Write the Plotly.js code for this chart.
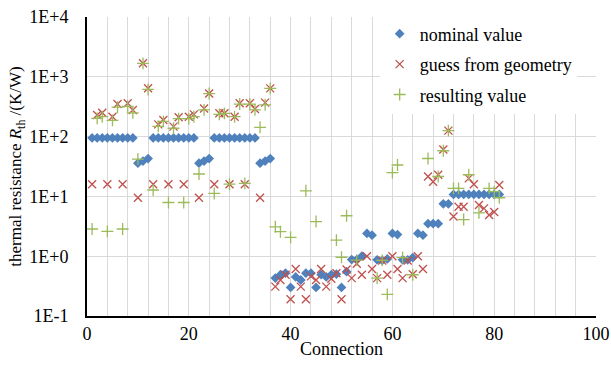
<!DOCTYPE html>
<html>
<head>
<meta charset="utf-8">
<script src="https://cdn.plot.ly/plotly-3.0.1.min.js"></script>
<style>html,body{margin:0;padding:0;background:#fff;}#chart{width:611px;height:369px;}</style>
</head>
<body>
<div id="chart"></div>
<script>
// Connection index 1..81
const connections = Array.from({length: 81}, (_, i) => i + 1);

const nominalValue = [
  95, 95, 95, 95, 95, 95, 95, 95, 95, 36, 39, 43,
  95, 95, 95, 95, 95, 95, 95, 95, 95, 36, 39, 43,
  95, 95, 95, 95, 95, 95, 95, 95, 95, 36, 39, 43,
  0.43, 0.49, 0.52, 0.30, 0.45, 0.40, 0.52, 0.52, 0.30, 0.49,
  0.45, 0.49, 0.50, 0.30, 0.55, 0.88, 0.88, 1.0, 2.4, 2.25,
  0.87, 0.85, 0.9, 2.4, 2.3, 0.87, 0.87, 0.95, 2.4, 2.25,
  3.5, 3.5, 3.5, 7.5, 7.5,
  10.8, 10.8, 10.8, 10.8, 10.8, 10.8, 10.8, 10.8, 10.8, 10.8
];

const guessFromGeometry = [
  16, 230, 250, 16, 215, 350, 16, 360, 278, 9.5, 1680, 645,
  16, 160, 190, 16, 147, 210, 16, 215, 235, 9.5, 295, 525,
  16, 245, 245, 16, 215, 360, 16, 360, 290, 9.5, 370, 640,
  0.31, 0.40, 0.49, 0.19, 0.61, 0.31, 0.19, 0.46, 0.40, 0.61,
  0.31, 0.42, 0.52, 0.19, 0.60, 0.43, 0.75, 0.49, 1.0, 0.61,
  0.43, 0.85, 0.49, 1.0, 0.61, 0.43, 0.85, 0.50, 1.0, 0.61,
  21.5, 17.6, 23, 61, 126,
  4.6, 6.7, 6.7, 20, 16, 7.2, 6.3, 4.9, 5.5, 15.5
];

const resultingValue = [
  2.85, 202, 215, 2.6, 187, 310, 2.85, 320, 250, 42, 1680, 615,
  12.8, 148, 180, 7.9, 138, 200, 7.9, 200, 215, 23.7, 280, 525,
  11.2, 235, 245, 16, 215, 350, 16.5, 350, 280, 143, 340, 640,
  3.1, 2.57, null, 2.07, null, null, 12.4, null, 3.8, null,
  null, null, 1.86, 0.96, 4.75, null, 0.86, null, null, null,
  0.43, 0.85, 0.23, 25, 33.5, 0.95, null, 0.49, null, null,
  43, null, 21.5, 58, 126,
  13.6, 13.6, 4.1, 23, null, 5.3, null, 13.6, 12, 9.5
];

const yTickVals = [0.1, 1, 10, 100, 1000, 10000];
const yTickText = ['1E-1', '1E+0', '1E+1', '1E+2', '1E+3', '1E+4'];
const xTickVals = [0, 20, 40, 60, 80, 100];

const FONT = '"Liberation Serif", "Times New Roman", serif';

const traces = [
  {
    x: connections, y: nominalValue, name: 'nominal value',
    type: 'scatter', mode: 'markers', legendgroup: 'a',
    marker: {symbol: 'diamond', size: 7.5, color: '#4F81BD', line: {width: 0}}
  },
  {
    x: connections, y: guessFromGeometry, name: 'guess from geometry',
    type: 'scatter', mode: 'markers', legendgroup: 'b',
    marker: {symbol: 'x-thin', size: 8, color: '#C0504D', line: {width: 1.3, color: '#C0504D'}}
  },
  {
    x: connections, y: resultingValue, name: 'resulting value',
    type: 'scatter', mode: 'markers', legendgroup: 'c',
    marker: {symbol: 'cross-thin', size: 8.5, color: '#9BBB59', line: {width: 1.3, color: '#9BBB59'}}
  }
];

const layout = {
  width: 611, height: 369,
  margin: {l: 87, r: 15, t: 17, b: 53},
  paper_bgcolor: '#ffffff', plot_bgcolor: '#ffffff',
  font: {family: FONT, size: 18, color: '#000'},
  showlegend: true,
  legend: {
    x: 0.575, y: 1.005, xanchor: 'left', yanchor: 'top',
    bgcolor: '#ffffff', borderwidth: 0,
    font: {family: FONT, size: 18, color: '#000'},
    traceorder: 'grouped', tracegroupgap: 4
  },
  xaxis: {
    range: [0, 100], tickmode: 'array', tickvals: xTickVals,
    showgrid: true, gridcolor: '#d9d9d9', gridwidth: 1,
    minor: {dtick: 4, tick0: 0, showgrid: true, gridcolor: '#d9d9d9', gridwidth: 1},
    showline: true, linecolor: '#000', linewidth: 2,
    zeroline: false, ticks: '',
    tickfont: {family: FONT, size: 18, color: '#000'},
    title: {text: 'Connection', font: {family: FONT, size: 18, color: '#000'}, standoff: 0}
  },
  yaxis: {
    type: 'log', range: [-1, 4], tickmode: 'array',
    tickvals: yTickVals, ticktext: yTickText,
    showgrid: true, gridcolor: '#d9d9d9', gridwidth: 1,
    showline: true, linecolor: '#000', linewidth: 2,
    zeroline: false, ticks: '', ticklabelstandoff: 13,
    tickfont: {family: FONT, size: 18, color: '#000'},
    title: {text: 'thermal resistance <i>R</i><sub>th</sub> /(K/W)', font: {family: FONT, size: 17, color: '#000'}, standoff: 3}
  }
};

Plotly.newPlot('chart', traces, layout, {staticPlot: true, displayModeBar: false});
</script>
</body>
</html>
